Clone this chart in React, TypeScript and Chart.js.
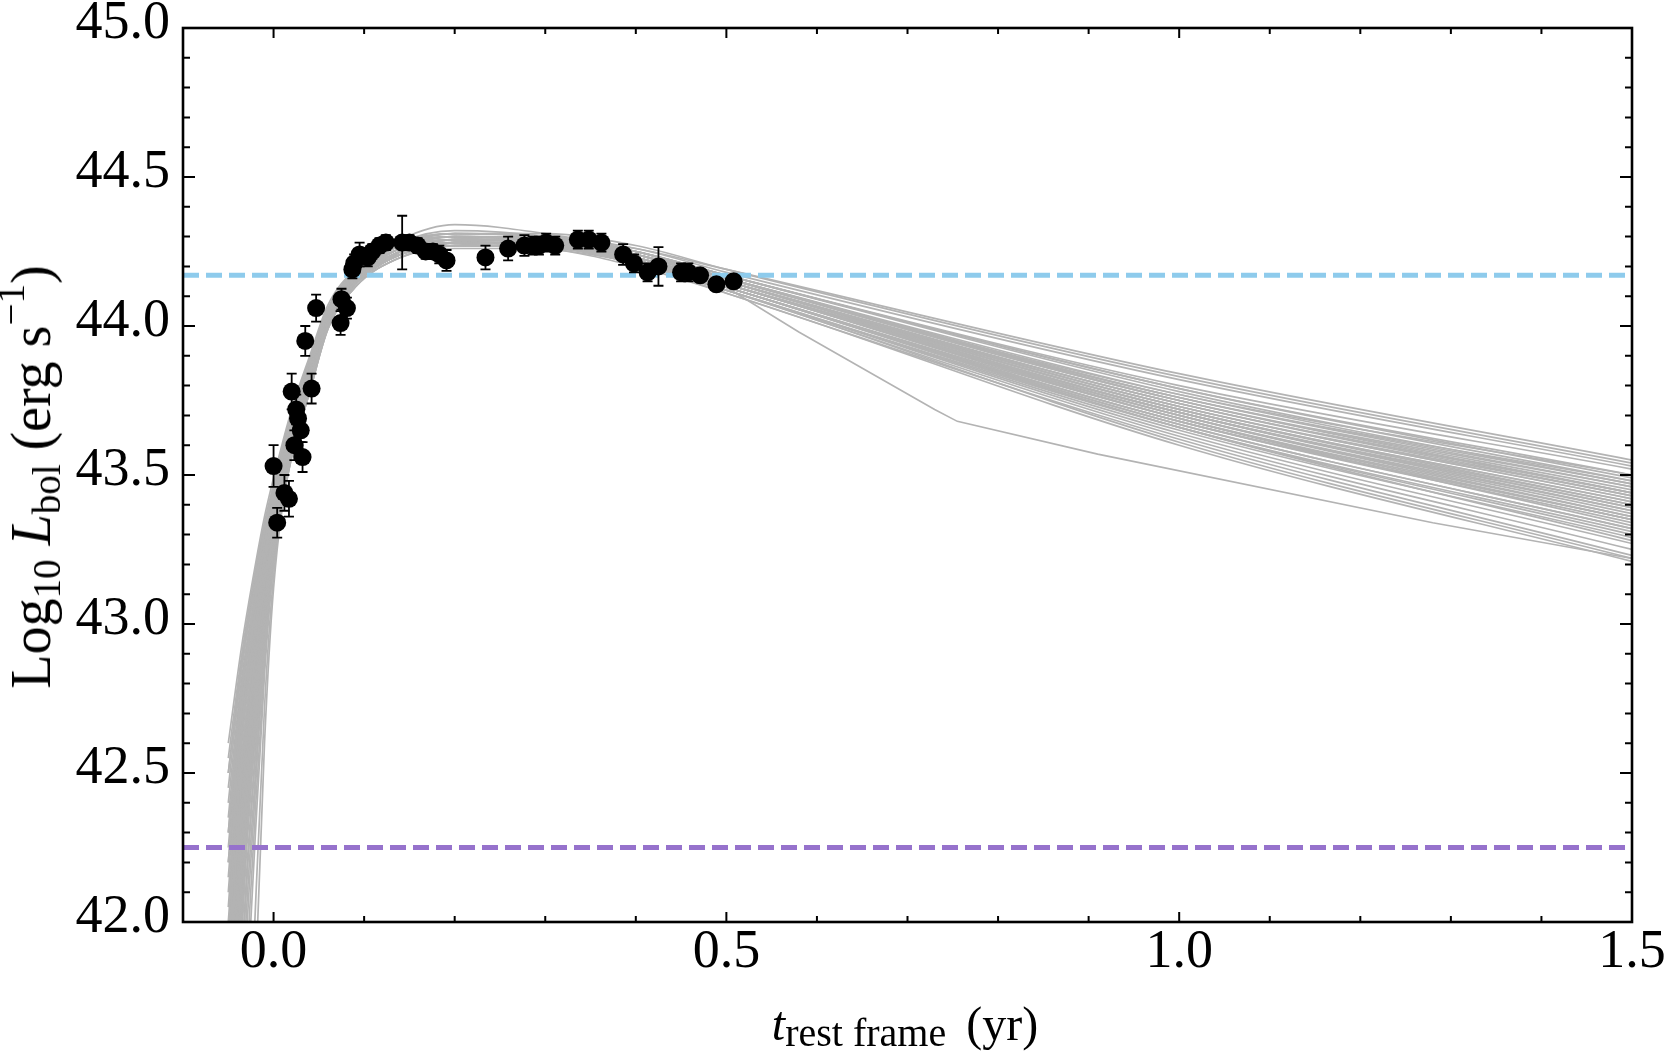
import { useEffect, useRef } from "react";
import { Chart, registerables } from "chart.js";

Chart.register(...registerables);

// observed bolometric light curve (rest-frame years, log10 erg/s)
const T_OBS = [
  0.0, 0.004, 0.012, 0.017, 0.02, 0.023, 0.025, 0.027, 0.03, 0.032, 0.035, 0.042, 0.047,
  0.074, 0.075, 0.081, 0.087, 0.089, 0.095, 0.104, 0.109, 0.117, 0.124, 0.142, 0.15,
  0.159, 0.168, 0.176, 0.183, 0.191, 0.234, 0.259, 0.277, 0.286, 0.293, 0.301, 0.311,
  0.336, 0.348, 0.362, 0.386, 0.398, 0.413, 0.425, 0.45, 0.458, 0.471, 0.489, 0.508,
];
const L_OBS = [
  43.53, 43.34, 43.44, 43.42, 43.78, 43.6, 43.72, 43.69, 43.65, 43.56, 43.95, 43.79, 44.06,
  44.01, 44.09, 44.06, 44.19, 44.21, 44.24, 44.23, 44.25, 44.27, 44.28, 44.28, 44.28,
  44.27, 44.25, 44.25, 44.24, 44.22, 44.23, 44.26, 44.27, 44.27, 44.27, 44.28, 44.27,
  44.29, 44.29, 44.28, 44.24, 44.21, 44.18, 44.2, 44.18, 44.18, 44.17, 44.14, 44.15,
];
const L_ERR = [
  0.07, 0.05, 0.06, 0.06, 0.06, 0.05, 0.05, 0.04, 0.04, 0.05, 0.05, 0.05, 0.045,
  0.04, 0.035, 0.035, 0.03, 0.03, 0.04, 0.03, 0.025, 0.025, 0.025, 0.09, 0.025,
  0.025, 0.025, 0.025, 0.03, 0.035, 0.04, 0.04, 0.035, 0.03, 0.03, 0.03, 0.03,
  0.03, 0.03, 0.03, 0.035, 0.03, 0.03, 0.065, 0.03, 0.03, 0.02, 0.02, 0.02,
];

// reference levels (dashed)
const L_BLUE = 44.17;
const L_PURPLE = 42.25;

// model realisations, all sampled at MODEL_T
const MODEL_T = [-0.05, -0.035, -0.02, -0.01, 0, 0.02, 0.04, 0.06, 0.09, 0.14, 0.2, 0.3, 0.4, 0.5, 1.0, 1.5];
const MODEL_L = [
  [42.6, 42.93, 43.2, 43.36, 43.49, 43.72, 43.9, 44.07, 44.19, 44.28, 44.31, 44.3, 44.25, 44.17, 43.8, 43.52],
  [42.45, 42.85, 43.13, 43.31, 43.45, 43.7, 43.88, 44.05, 44.18, 44.27, 44.3, 44.29, 44.24, 44.16, 43.76, 43.47],
  [42.3, 42.78, 43.08, 43.27, 43.42, 43.68, 43.86, 44.04, 44.17, 44.27, 44.3, 44.28, 44.22, 44.13, 43.68, 43.35],
  [42.2, 42.72, 43.04, 43.23, 43.4, 43.66, 43.85, 44.04, 44.17, 44.26, 44.29, 44.29, 44.24, 44.15, 43.74, 43.44],
  [42.1, 42.66, 43.0, 43.2, 43.37, 43.65, 43.84, 44.03, 44.16, 44.26, 44.29, 44.3, 44.26, 44.18, 43.82, 43.53],
  [42.0, 42.62, 42.97, 43.18, 43.35, 43.63, 43.83, 44.03, 44.16, 44.26, 44.3, 44.29, 44.23, 44.14, 43.71, 43.4],
  [41.9, 42.56, 42.94, 43.16, 43.34, 43.62, 43.82, 44.02, 44.16, 44.25, 44.28, 44.27, 44.22, 44.13, 43.66, 43.3],
  [41.8, 42.52, 42.92, 43.14, 43.32, 43.61, 43.82, 44.02, 44.15, 44.25, 44.28, 44.28, 44.23, 44.15, 43.73, 43.43],
  [41.7, 42.47, 42.89, 43.12, 43.31, 43.6, 43.81, 44.01, 44.15, 44.25, 44.29, 44.29, 44.25, 44.17, 43.78, 43.48],
  [41.6, 42.42, 42.86, 43.1, 43.29, 43.59, 43.8, 44.01, 44.15, 44.24, 44.28, 44.27, 44.21, 44.12, 43.64, 43.27],
  [41.5, 42.37, 42.83, 43.08, 43.28, 43.58, 43.8, 44.0, 44.14, 44.24, 44.28, 44.28, 44.23, 44.14, 43.7, 43.37],
  [41.3, 42.3, 42.8, 43.06, 43.27, 43.58, 43.79, 44.0, 44.14, 44.24, 44.27, 44.27, 44.22, 44.14, 43.72, 43.41],
  [41.1, 42.22, 42.76, 43.04, 43.26, 43.57, 43.79, 44.0, 44.14, 44.24, 44.28, 44.29, 44.25, 44.16, 43.75, 43.45],
  [40.9, 42.14, 42.72, 43.02, 43.25, 43.57, 43.78, 43.99, 44.13, 44.23, 44.27, 44.27, 44.21, 44.11, 43.62, 43.23],
  [40.7, 42.05, 42.68, 43.0, 43.24, 43.56, 43.78, 43.99, 44.13, 44.23, 44.27, 44.28, 44.24, 44.15, 43.74, 43.43],
  [40.5, 41.95, 42.63, 42.98, 43.24, 43.56, 43.78, 43.99, 44.13, 44.23, 44.26, 44.26, 44.21, 44.12, 43.66, 43.31],
  [40.2, 41.8, 42.56, 42.95, 43.23, 43.57, 43.79, 44.0, 44.14, 44.24, 44.28, 44.28, 44.22, 44.13, 43.68, 43.34],
  [39.9, 41.6, 42.45, 42.9, 43.22, 43.58, 43.8, 44.01, 44.15, 44.25, 44.28, 44.27, 44.22, 44.14, 43.71, 43.39],
  [39.5, 41.3, 42.3, 42.83, 43.2, 43.58, 43.8, 44.01, 44.14, 44.24, 44.27, 44.26, 44.2, 44.11, 43.6, 43.21],
  [39.0, 40.9, 42.05, 42.72, 43.16, 43.58, 43.81, 44.02, 44.15, 44.25, 44.29, 44.28, 44.23, 44.14, 43.7, 43.36],
  [38.5, 40.4, 41.8, 42.6, 43.12, 43.57, 43.8, 44.02, 44.15, 44.24, 44.27, 44.26, 44.21, 44.12, 43.65, 43.29],
  [42.55, 42.9, 43.18, 43.34, 43.47, 43.71, 43.89, 44.06, 44.19, 44.29, 44.34, 44.31, 44.25, 44.16, 43.77, 43.5],
  [42.35, 42.8, 43.1, 43.29, 43.44, 43.69, 43.87, 44.05, 44.18, 44.28, 44.32, 44.3, 44.24, 44.15, 43.73, 43.42],
  [42.15, 42.69, 43.02, 43.22, 43.39, 43.66, 43.85, 44.03, 44.17, 44.27, 44.31, 44.3, 44.26, 44.19, 43.84, 43.55],
  [41.95, 42.6, 42.96, 43.17, 43.35, 43.63, 43.83, 44.03, 44.16, 44.26, 44.29, 44.28, 44.23, 44.14, 43.69, 43.33],
  [41.75, 42.5, 42.9, 43.13, 43.32, 43.61, 43.82, 44.02, 44.16, 44.26, 44.3, 44.3, 44.25, 44.17, 43.79, 43.49],
  [41.4, 42.33, 42.81, 43.07, 43.28, 43.58, 43.8, 44.01, 44.15, 44.25, 44.29, 44.28, 44.23, 44.14, 43.71, 43.38],
  [41.0, 42.18, 42.74, 43.03, 43.26, 43.57, 43.79, 44.0, 44.14, 44.24, 44.28, 44.28, 44.24, 44.16, 43.76, 43.46],
  [40.6, 42.0, 42.66, 42.99, 43.24, 43.57, 43.79, 44.0, 44.14, 44.24, 44.27, 44.27, 44.22, 44.13, 43.67, 43.32],
  [40.0, 41.7, 42.5, 42.92, 43.22, 43.58, 43.8, 44.01, 44.15, 44.25, 44.29, 44.29, 44.24, 44.15, 43.72, 43.4],
  [42.5, 42.88, 43.16, 43.33, 43.46, 43.7, 43.88, 44.05, 44.18, 44.27, 44.3, 44.28, 44.22, 44.12, 43.63, 43.25],
  [42.25, 42.75, 43.06, 43.25, 43.41, 43.67, 43.86, 44.04, 44.17, 44.26, 44.29, 44.28, 44.23, 44.14, 43.69, 43.35],
  [41.85, 42.54, 42.93, 43.15, 43.33, 43.62, 43.82, 44.02, 44.15, 44.25, 44.28, 44.27, 44.21, 44.12, 43.61, 43.22],
  [41.2, 42.26, 42.78, 43.05, 43.27, 43.58, 43.79, 44.0, 44.14, 44.24, 44.27, 44.27, 44.22, 44.13, 43.66, 43.28],
  [42.4, 42.82, 43.11, 43.3, 43.44, 43.69, 43.87, 44.05, 44.18, 44.27, 44.31, 44.31, 44.27, 44.19, 43.83, 43.54],
  [41.65, 42.45, 42.87, 43.11, 43.3, 43.6, 43.81, 44.01, 44.15, 44.25, 44.29, 44.29, 44.24, 44.16, 43.75, 43.44],
  [42.05, 42.64, 42.99, 43.19, 43.36, 43.64, 43.84, 44.03, 44.16, 44.26, 44.29, 44.28, 44.22, 44.13, 43.67, 43.32],
  [41.55, 42.4, 42.85, 43.09, 43.29, 43.59, 43.8, 44.01, 44.15, 44.25, 44.29, 44.29, 44.24, 44.15, 43.73, 43.42],
  [40.8, 42.1, 42.7, 43.01, 43.25, 43.57, 43.79, 44.0, 44.14, 44.24, 44.28, 44.28, 44.23, 44.14, 43.7, 43.38],
  [42.5, 42.87, 43.15, 43.32, 43.46, 43.7, 43.88, 44.05, 44.18, 44.28, 44.31, 44.3, 44.25, 44.16, 43.75, 43.46],
  [41.25, 42.28, 42.79, 43.05, 43.27, 43.58, 43.8, 44.0, 44.14, 44.24, 44.28, 44.28, 44.24, 44.16, 43.77, 43.47],
  [39.7, 41.45, 42.38, 42.87, 43.21, 43.58, 43.8, 44.01, 44.15, 44.25, 44.28, 44.27, 44.22, 44.13, 43.68, 43.35],
  [42.2, 42.7, 43.03, 43.23, 43.4, 43.66, 43.85, 44.04, 44.17, 44.26, 44.3, 44.29, 44.24, 44.15, 43.72, 43.41],
  [41.45, 42.35, 42.82, 43.08, 43.28, 43.58, 43.8, 44.0, 44.14, 44.24, 44.28, 44.27, 44.22, 44.13, 43.69, 43.36],
  [40.3, 41.85, 42.58, 42.96, 43.23, 43.57, 43.79, 44.0, 44.14, 44.24, 44.28, 44.28, 44.23, 44.15, 43.74, 43.44],
  [42.3, 42.77, 43.08, 43.27, 43.42, 43.68, 43.86, 44.04, 44.17, 44.27, 44.3, 44.29, 44.25, 44.16, 43.76, 43.48],
  [41.75, 42.49, 42.9, 43.13, 43.32, 43.61, 43.82, 44.02, 44.15, 44.25, 44.29, 44.28, 44.23, 44.14, 43.71, 43.39],
  [41.0, 42.17, 42.73, 43.03, 43.26, 43.57, 43.79, 44.0, 44.14, 44.24, 44.28, 44.29, 44.25, 44.17, 43.79, 43.5],
];

// the one realisation with a break near 0.75 yr
const ODD_T = [-0.05, -0.035, -0.02, -0.01, 0, 0.02, 0.04, 0.06, 0.09, 0.14, 0.2, 0.3, 0.4, 0.5, 0.58, 0.73, 0.755, 0.91, 1.28, 1.5];
const ODD_L = [41.8, 42.5, 42.9, 43.13, 43.31, 43.6, 43.81, 44.01, 44.15, 44.25, 44.28, 44.27, 44.22, 44.13, 43.98, 43.72, 43.68, 43.57, 43.34, 43.22];

const X_TICKS = [0, 0.5, 1.0, 1.5];
const Y_TICKS = [42, 42.5, 43, 43.5, 44, 44.5, 45];

const GREY = "#b3b3b3";
const SERIF = "'Liberation Serif', 'Times New Roman', serif";

const errorBars = {
  id: "errorBars",
  beforeDatasetDraw(chart: any, args: any) {
    if (args.index !== 0) return;
    const { ctx, scales } = chart;
    const x = scales.x;
    const y = scales.y;
    ctx.save();
    ctx.strokeStyle = "#000";
    ctx.lineWidth = 1.8;
    T_OBS.forEach((t, i) => {
      const px = x.getPixelForValue(t);
      const top = y.getPixelForValue(L_OBS[i] + L_ERR[i]);
      const bot = y.getPixelForValue(L_OBS[i] - L_ERR[i]);
      ctx.beginPath();
      ctx.moveTo(px, top);
      ctx.lineTo(px, bot);
      ctx.moveTo(px - 5, top);
      ctx.lineTo(px + 5, top);
      ctx.moveTo(px - 5, bot);
      ctx.lineTo(px + 5, bot);
      ctx.stroke();
    });
    ctx.restore();
  },
};

// box frame with inward ticks on all four sides
const frame = {
  id: "frame",
  afterDatasetsDraw(chart: any) {
    const { ctx, chartArea: a, scales } = chart;
    const x = scales.x;
    const y = scales.y;
    ctx.save();
    ctx.strokeStyle = "#000";
    ctx.lineWidth = 2;
    ctx.beginPath();
    for (let k = -1; k <= 15; k++) {
      const px = x.getPixelForValue(k / 10);
      const len = k % 5 === 0 ? 10 : 6;
      ctx.moveTo(px, a.bottom);
      ctx.lineTo(px, a.bottom - len);
      ctx.moveTo(px, a.top);
      ctx.lineTo(px, a.top + len);
    }
    for (let k = 420; k <= 450; k++) {
      const py = y.getPixelForValue(k / 10);
      const len = k % 5 === 0 ? 12 : 7;
      ctx.moveTo(a.left, py);
      ctx.lineTo(a.left + len, py);
      ctx.moveTo(a.right, py);
      ctx.lineTo(a.right - len, py);
    }
    ctx.stroke();
    ctx.lineWidth = 2.6;
    ctx.strokeRect(a.left, a.top, a.right - a.left, a.bottom - a.top);
    ctx.restore();
  },
};

function LightCurve() {
  const canvasRef = useRef<HTMLCanvasElement>(null);

  useEffect(() => {
    const canvas = canvasRef.current;
    if (!canvas) return;

    const flat = (v: number) => [
      { x: -0.1, y: v },
      { x: 1.5, y: v },
    ];

    const models = MODEL_L.map((row) => ({
      data: row.map((v, i) => ({ x: MODEL_T[i], y: v })),
      borderColor: GREY,
      borderWidth: 1.7,
      pointRadius: 0,
      cubicInterpolationMode: "monotone" as const,
    }));

    const chart = new Chart(canvas, {
      type: "line",
      data: {
        datasets: [
          {
            data: T_OBS.map((t, i) => ({ x: t, y: L_OBS[i] })),
            showLine: false,
            pointRadius: 9,
            pointBackgroundColor: "#000",
            pointBorderWidth: 0,
          },
          {
            data: flat(L_BLUE),
            borderColor: "#8ecbec",
            borderWidth: 5,
            borderDash: [16, 7],
            pointRadius: 0,
          },
          {
            data: flat(L_PURPLE),
            borderColor: "#9672cc",
            borderWidth: 5,
            borderDash: [16, 7],
            pointRadius: 0,
          },
          {
            data: ODD_T.map((t, i) => ({ x: t, y: ODD_L[i] })),
            borderColor: GREY,
            borderWidth: 1.6,
            pointRadius: 0,
          },
          ...models,
        ],
      },
      options: {
        responsive: true,
        maintainAspectRatio: false,
        animation: false,
        events: [],
        layout: { padding: { top: 28, right: 34, left: 0, bottom: 0 } },
        plugins: { legend: { display: false }, tooltip: { enabled: false } },
        scales: {
          x: {
            type: "linear",
            min: -0.1,
            max: 1.5,
            afterBuildTicks: (s: any) => {
              s.ticks = X_TICKS.map((value) => ({ value }));
            },
            afterFit: (s: any) => {
              s.height = 139;
              s.paddingLeft = 0;
              s.paddingRight = 0;
            },
            grid: { display: false, drawTicks: false },
            border: { display: false },
            ticks: {
              padding: 4,
              maxRotation: 0,
              autoSkip: false,
              color: "#000",
              font: { family: SERIF, size: 54, lineHeight: 1 },
              callback: (v: any) => Number(v).toFixed(1),
            },
          },
          y: {
            type: "linear",
            min: 42,
            max: 45,
            afterBuildTicks: (s: any) => {
              s.ticks = Y_TICKS.map((value) => ({ value }));
            },
            afterFit: (s: any) => {
              s.width = 183;
              s.paddingTop = 0;
              s.paddingBottom = 0;
            },
            grid: { display: false, drawTicks: false },
            border: { display: false },
            ticks: {
              padding: 13,
              labelOffset: -4.5,
              autoSkip: false,
              color: "#000",
              font: { family: SERIF, size: 54, lineHeight: 1 },
              callback: (v: any) => Number(v).toFixed(1),
            },
          },
        },
      },
      plugins: [errorBars, frame],
    });

    return () => chart.destroy();
  }, []);

  return <canvas ref={canvasRef} />;
}

const sub = (size: number, drop: number) => ({
  fontSize: size,
  position: "relative" as const,
  top: drop,
});

export default function App() {
  useEffect(() => {
    document.body.style.margin = "0";
  }, []);

  return (
    <div
      style={{
        position: "relative",
        width: 1666,
        height: 1061,
        background: "#fff",
        fontFamily: SERIF,
        color: "#000",
      }}
    >
      <div style={{ position: "absolute", inset: 0 }}>
        <LightCurve />
      </div>
      <div
        style={{
          position: "absolute",
          left: 31,
          top: 477,
          transform: "translate(-50%, -50%) rotate(-90deg)",
          whiteSpace: "nowrap",
          fontSize: 56,
          lineHeight: 1,
        }}
      >
        Log<span style={sub(39, 10)}>10</span> <i>L</i>
        <span style={sub(39, 10)}>bol</span> (erg s<span style={sub(39, -26)}>−1</span>)
      </div>
      <div
        style={{
          position: "absolute",
          left: 905,
          top: 1000,
          transform: "translateX(-50%)",
          whiteSpace: "nowrap",
          fontSize: 48,
          lineHeight: 1,
        }}
      >
        <i>t</i>
        <span style={sub(40, 6)}>rest frame</span>
        <span style={{ marginLeft: 20 }}>(yr)</span>
      </div>
    </div>
  );
}
